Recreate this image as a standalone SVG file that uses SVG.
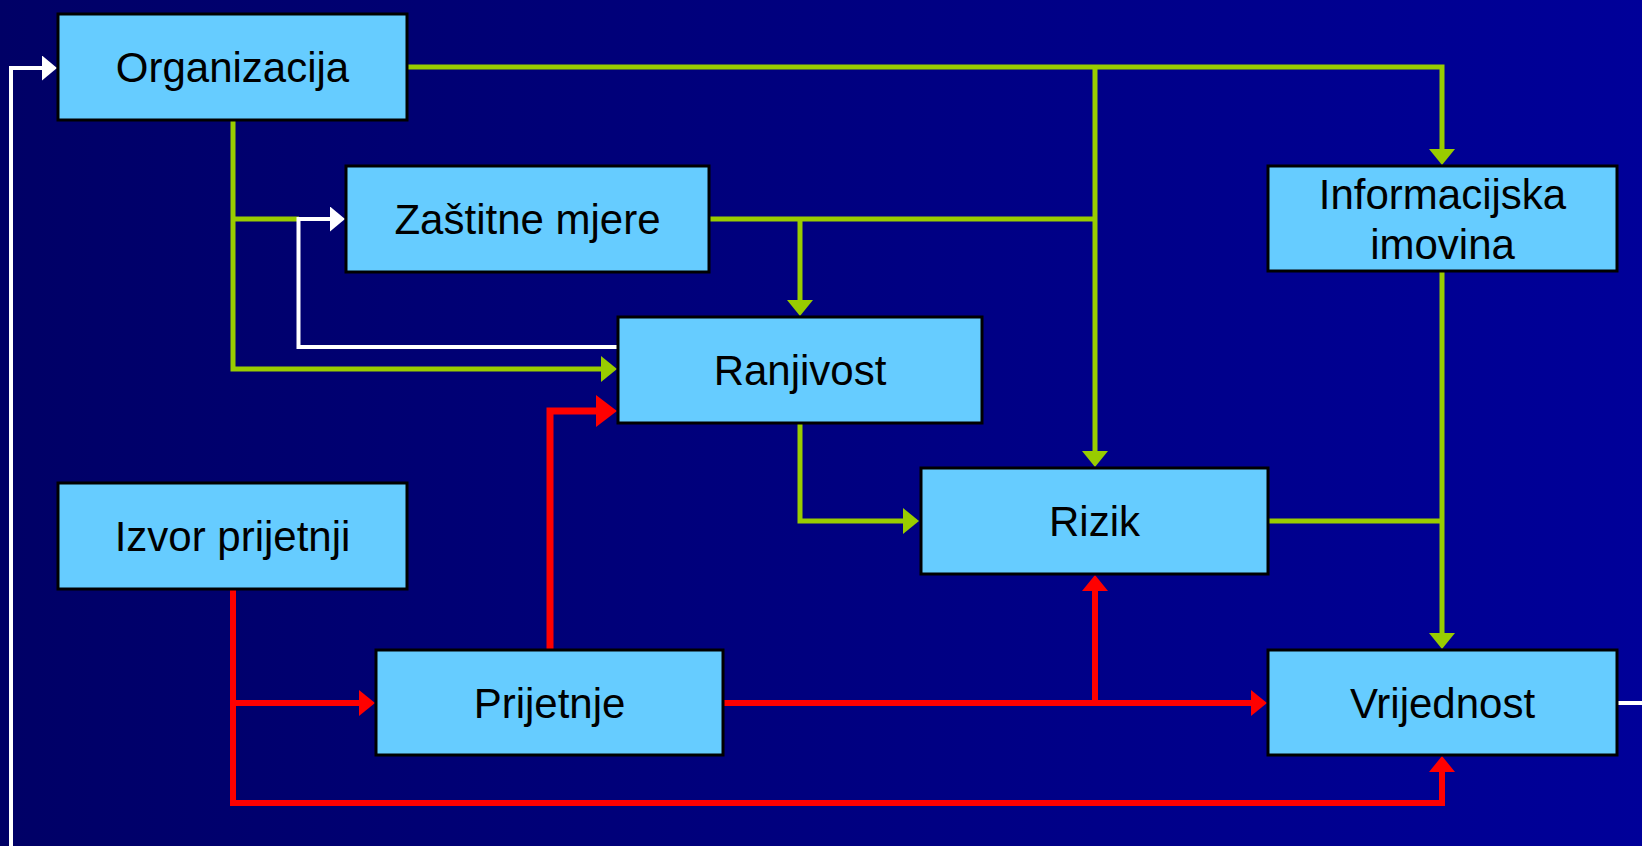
<svg xmlns="http://www.w3.org/2000/svg" width="1642" height="846" viewBox="0 0 1642 846">
  <defs>
    <linearGradient id="bg" x1="0" y1="0" x2="1" y2="0">
      <stop offset="0" stop-color="#000066"/>
      <stop offset="1" stop-color="#000099"/>
    </linearGradient>
    <marker id="arrowG" viewBox="0 0 16 26" refX="2" refY="13" markerWidth="16" markerHeight="26" markerUnits="userSpaceOnUse" orient="auto">
      <path d="M0,0 L16,13 L0,26 z" fill="#99CC00"/>
    </marker>
    <marker id="arrowR" viewBox="0 0 16 26" refX="2" refY="13" markerWidth="16" markerHeight="26" markerUnits="userSpaceOnUse" orient="auto">
      <path d="M0,0 L16,13 L0,26 z" fill="#FF0000"/>
    </marker>
    <marker id="arrowR2" viewBox="0 0 21 32" refX="2" refY="16" markerWidth="21" markerHeight="32" markerUnits="userSpaceOnUse" orient="auto">
      <path d="M0,0 L21,16 L0,32 z" fill="#FF0000"/>
    </marker>
    <marker id="arrowW" viewBox="0 0 15 25" refX="2" refY="12.5" markerWidth="15" markerHeight="25" markerUnits="userSpaceOnUse" orient="auto">
      <path d="M0,0 L15,12.5 L0,25 z" fill="#FFFFFF"/>
    </marker>
  </defs>
  <style>
    .box { fill: #66CCFF; stroke: #000000; stroke-width: 3; }
    .lbl { font-family: "Liberation Sans", Arial, sans-serif; font-size: 42px; fill: #000000; text-anchor: middle; }
    .g { fill: none; stroke: #99CC00; stroke-width: 5; }
    .r { fill: none; stroke: #FF0000; stroke-width: 6; }
    .r2 { fill: none; stroke: #FF0000; stroke-width: 7; }
    .w { fill: none; stroke: #FFFFFF; stroke-width: 4; }
  </style>
  <rect x="0" y="0" width="1642" height="846" fill="url(#bg)"/>

  <g id="connectors">
    <!-- green -->
    <path class="g" d="M407,67 H1442 V151" marker-end="url(#arrowG)"/>
    <path class="g" d="M1095,67 V453" marker-end="url(#arrowG)"/>
    <path class="g" d="M709,219 H1095"/>
    <path class="g" d="M800,219 V302" marker-end="url(#arrowG)"/>
    <path class="g" d="M233,120 V369 H603" marker-end="url(#arrowG)"/>
    <path class="g" d="M233,219 H299"/>
    <path class="g" d="M800,423 V521 H905" marker-end="url(#arrowG)"/>
    <path class="g" d="M1268,521 H1442"/>
    <path class="g" d="M1442,271 V635" marker-end="url(#arrowG)"/>
    <!-- white -->
    <path class="w" d="M618,347 H298.5 V219 H332" marker-end="url(#arrowW)"/>
    <path class="w" d="M11,846 V68 H44" marker-end="url(#arrowW)"/>
    <path class="w" d="M1617,703 H1642"/>
    <!-- red -->
    <path class="r" d="M233,589 V803 H1442 V770" marker-end="url(#arrowR)"/>
    <path class="r" d="M233,703 H361" marker-end="url(#arrowR)"/>
    <path class="r" d="M723,703 H1253" marker-end="url(#arrowR)"/>
    <path class="r" d="M1095,703 V589" marker-end="url(#arrowR)"/>
    <path class="r2" d="M550,650 V411 H598" marker-end="url(#arrowR2)"/>
  </g>

  <g id="organizacija">
    <rect class="box" x="58" y="14" width="349" height="106"/>
    <text class="lbl" x="232.5" y="82">Organizacija</text>
  </g>
  <g id="zastitne-mjere">
    <rect class="box" x="346" y="166" width="363" height="106"/>
    <text class="lbl" x="527.5" y="234">Zaštitne mjere</text>
  </g>
  <g id="informacijska-imovina">
    <rect class="box" x="1268" y="166" width="349" height="105"/>
    <text class="lbl" x="1442.5" y="209">Informacijska</text>
    <text class="lbl" x="1442.5" y="259">imovina</text>
  </g>
  <g id="ranjivost">
    <rect class="box" x="618" y="317" width="364" height="106"/>
    <text class="lbl" x="800" y="385">Ranjivost</text>
  </g>
  <g id="rizik">
    <rect class="box" x="921" y="468" width="347" height="106"/>
    <text class="lbl" x="1094.5" y="536">Rizik</text>
  </g>
  <g id="izvor-prijetnji">
    <rect class="box" x="58" y="483" width="349" height="106"/>
    <text class="lbl" x="232.5" y="551">Izvor prijetnji</text>
  </g>
  <g id="prijetnje">
    <rect class="box" x="376" y="650" width="347" height="105"/>
    <text class="lbl" x="549.5" y="717.5">Prijetnje</text>
  </g>
  <g id="vrijednost">
    <rect class="box" x="1268" y="650" width="349" height="105"/>
    <text class="lbl" x="1442.5" y="717.5">Vrijednost</text>
  </g>
</svg>
